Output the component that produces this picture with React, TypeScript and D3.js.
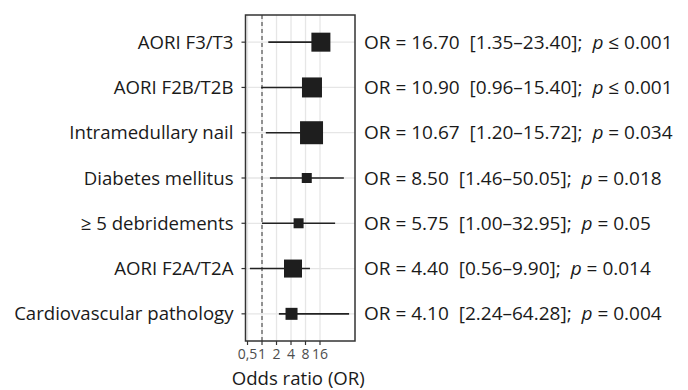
import React from "react";
import * as d3 from "d3";

const width = 688;
const height = 390;
const panel = { left: 245.5, right: 355, top: 15, bottom: 341 };

const factors = [
  "AORI F3/T3",
  "AORI F2B/T2B",
  "Intramedullary nail",
  "Diabetes mellitus",
  "\u2265 5 debridements",
  "AORI F2A/T2A",
  "Cardiovascular pathology",
];
const oddsRatios = [16.7, 10.9, 10.67, 8.5, 5.75, 4.4, 4.1];
const ciLow = [1.35, 0.96, 1.2, 1.46, 1.0, 0.56, 2.24];
const ciHigh = [23.4, 15.4, 15.72, 50.05, 32.95, 9.9, 64.28];
const pSign = ["\u2264", "\u2264", "=", "=", "=", "=", "="];
const pValues = ["0.001", "0.001", "0.034", "0.018", "0.05", "0.014", "0.004"];
// relative weight of each estimate (box size)
const weights = [19, 20, 23, 10, 10, 18, 12];
const xTicks = [0.5, 1, 2, 4, 8, 16];

const font = "'Open Sans', sans-serif";
const fmt = d3.format(".2f");

export default function App() {
  const x = d3
    .scaleLog()
    .base(2)
    .domain([0.454, 85.3])
    .range([panel.left, panel.right]);
  const y = d3
    .scalePoint()
    .domain(factors)
    .range([panel.top, panel.bottom])
    .padding(0.6);
  const size = d3.scaleLinear().domain([0, 23]).range([0, 23]);

  return (
    <svg
      width={width}
      height={height}
      style={{ position: "absolute", left: 0, top: 0, background: "#fff" }}
    >
      {/* grid */}
      {xTicks.map((t) => (
        <line
          key={"gx" + t}
          x1={x(t)}
          x2={x(t)}
          y1={panel.top}
          y2={panel.bottom}
          stroke="#e6e6e6"
          strokeWidth={1.3}
        />
      ))}
      {factors.map((f) => (
        <line
          key={"gy" + f}
          x1={panel.left}
          x2={panel.right}
          y1={y(f)}
          y2={y(f)}
          stroke="#e6e6e6"
          strokeWidth={1.3}
        />
      ))}
      {/* reference line */}
      <line
        x1={x(1)}
        x2={x(1)}
        y1={panel.top}
        y2={panel.bottom}
        stroke="#333"
        strokeWidth={1}
        strokeDasharray="4,3"
      />
      {/* intervals and boxes */}
      {factors.map((f, i) => {
        const s = size(weights[i]);
        return (
          <g key={"m" + f}>
            <line
              x1={x(ciLow[i])}
              x2={x(ciHigh[i])}
              y1={y(f)}
              y2={y(f)}
              stroke="#222"
              strokeWidth={1.6}
            />
            <rect
              x={x(oddsRatios[i]) - s / 2}
              y={y(f)! - s / 2}
              width={s}
              height={s}
              fill="#1e1e1e"
            />
          </g>
        );
      })}
      <rect
        x={panel.left}
        y={panel.top}
        width={panel.right - panel.left}
        height={panel.bottom - panel.top}
        fill="none"
        stroke="#333"
        strokeWidth={1.5}
      />
      {/* y axis */}
      {factors.map((f) => (
        <g key={"yl" + f}>
          <line
            x1={panel.left - 4}
            x2={panel.left}
            y1={y(f)}
            y2={y(f)}
            stroke="#333"
            strokeWidth={1.2}
          />
          <text
            x={panel.left - 12}
            y={y(f)}
            dy="0.35em"
            textAnchor="end"
            fontFamily={font}
            fontSize={18.6}
            fill="#1a1a1a"
          >
            {f}
          </text>
        </g>
      ))}
      {/* x axis */}
      {xTicks.map((t) => (
        <g key={"xt" + t}>
          <line
            x1={x(t)}
            x2={x(t)}
            y1={panel.bottom}
            y2={panel.bottom + 4}
            stroke="#333"
            strokeWidth={1.2}
          />
          <text
            x={x(t)}
            y={panel.bottom + 18}
            textAnchor="middle"
            fontFamily={font}
            fontSize={14}
            fill="#4d4d4d"
          >
            {String(t).replace(".", ",")}
          </text>
        </g>
      ))}
      <text
        x={(panel.left + panel.right) / 2 - 2}
        y={385}
        textAnchor="middle"
        fontFamily={font}
        fontSize={18.6}
        fill="#1a1a1a"
      >
        Odds ratio (OR)
      </text>
      {/* estimates */}
      {factors.map((f, i) => (
        <text
          key={"est" + f}
          x={364}
          y={y(f)}
          dy="0.35em"
          fontFamily={font}
          fontSize={19}
          fill="#1a1a1a"
          style={{ whiteSpace: "pre" }}
        >
          {`OR = ${fmt(oddsRatios[i])}  [${fmt(ciLow[i])}\u2013${fmt(ciHigh[i])}];  `}
          <tspan fontStyle="italic">p</tspan>
          {` ${pSign[i]} ${pValues[i]}`}
        </text>
      ))}
    </svg>
  );
}
